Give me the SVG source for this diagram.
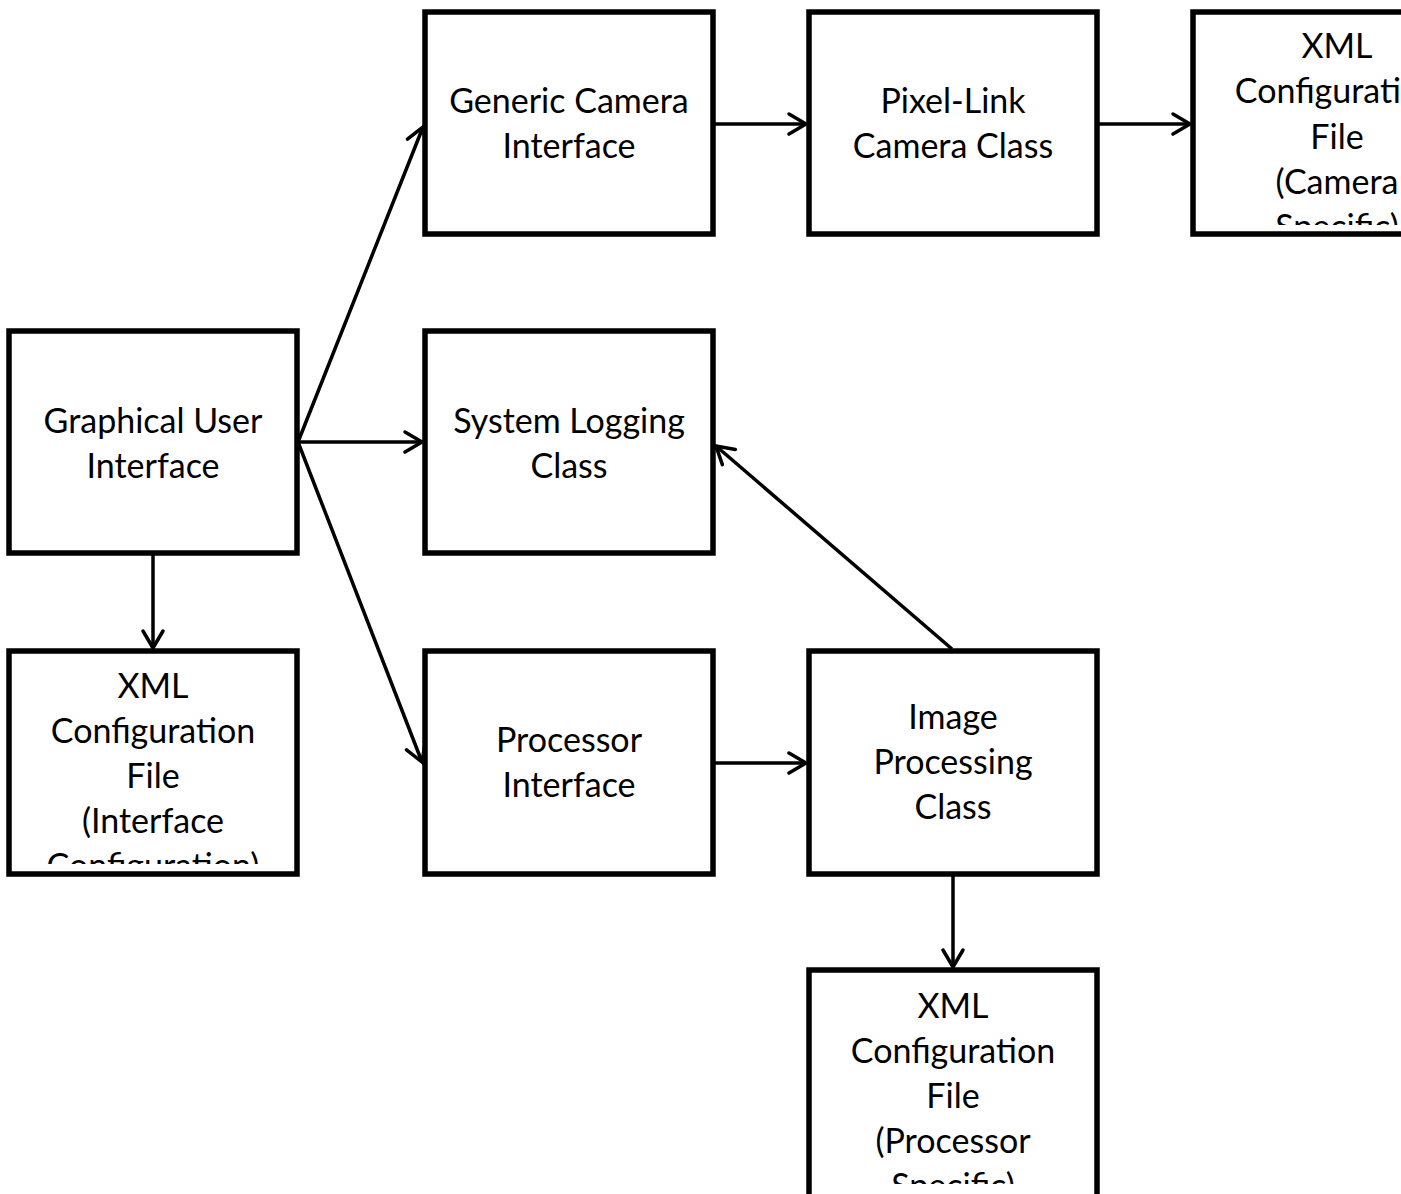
<svg xmlns="http://www.w3.org/2000/svg" width="1401" height="1194" viewBox="0 0 1401 1194">
<style>
.box{fill:#fff;stroke:#000;stroke-width:5.5}
.t{font-family:Lato,"Open Sans","Liberation Sans",sans-serif;font-size:34px;fill:#000;text-anchor:middle}
.c{fill:none;stroke:#000;stroke-width:3.5;marker-end:url(#arr)}
</style>
<defs>
<marker id="arr" viewBox="-22 -14 26 28" refX="0" refY="0" markerWidth="26" markerHeight="28" markerUnits="userSpaceOnUse" orient="auto">
<path d="M-17,-10 L0,0 L-17,10" fill="none" stroke="#000" stroke-width="3.5" stroke-linecap="round"/>
</marker>
<clipPath id="cpCam"><rect x="1196" y="15" width="300" height="210"/></clipPath>
<clipPath id="cpIf"><rect x="12" y="654" width="282" height="210"/></clipPath>
<clipPath id="cpProc"><rect x="812" y="973" width="282" height="211"/></clipPath>
</defs>
<g id="connectors">
<line class="c" x1="298" y1="442" x2="423" y2="127"/>
<line class="c" x1="298" y1="442" x2="422" y2="442"/>
<line class="c" x1="298" y1="442" x2="422" y2="762"/>
<line class="c" x1="713" y1="124" x2="806" y2="124"/>
<line class="c" x1="1097" y1="124" x2="1190" y2="124"/>
<line class="c" x1="153" y1="553" x2="153" y2="648"/>
<line class="c" x1="713" y1="763" x2="806" y2="763"/>
<line class="c" x1="952" y1="649" x2="716" y2="446"/>
<line class="c" x1="953" y1="875" x2="953" y2="967"/>
</g>
<g id="generic-camera">
<rect class="box" x="425" y="12" width="288" height="222"/>
<text class="t" x="569" y="113">Generic Camera</text>
<text class="t" x="569" y="158">Interface</text>
</g>
<g id="pixel-link">
<rect class="box" x="809" y="12" width="288" height="222"/>
<text class="t" x="953" y="113">Pixel-Link</text>
<text class="t" x="953" y="158">Camera Class</text>
</g>
<g id="xml-camera">
<rect class="box" x="1193" y="12" width="288" height="222"/>
<g clip-path="url(#cpCam)">
<text class="t" x="1337" y="58">XML</text>
<text class="t" x="1337" y="103">Configuration</text>
<text class="t" x="1337" y="149">File</text>
<text class="t" x="1337" y="194">(Camera</text>
<text class="t" x="1337" y="239">Specific)</text>
</g>
</g>
<g id="gui">
<rect class="box" x="9" y="331" width="288" height="222"/>
<text class="t" x="153" y="433">Graphical User</text>
<text class="t" x="153" y="478">Interface</text>
</g>
<g id="system-logging">
<rect class="box" x="425" y="331" width="288" height="222"/>
<text class="t" x="569" y="433">System Logging</text>
<text class="t" x="569" y="478">Class</text>
</g>
<g id="xml-interface">
<rect class="box" x="9" y="651" width="288" height="223"/>
<g clip-path="url(#cpIf)">
<text class="t" x="153" y="698">XML</text>
<text class="t" x="153" y="743">Configuration</text>
<text class="t" x="153" y="788">File</text>
<text class="t" x="153" y="833">(Interface</text>
<text class="t" x="153" y="878">Configuration)</text>
</g>
</g>
<g id="processor-interface">
<rect class="box" x="425" y="651" width="288" height="223"/>
<text class="t" x="569" y="752">Processor</text>
<text class="t" x="569" y="797">Interface</text>
</g>
<g id="image-processing">
<rect class="box" x="809" y="651" width="288" height="223"/>
<text class="t" x="953" y="729">Image</text>
<text class="t" x="953" y="774">Processing</text>
<text class="t" x="953" y="819">Class</text>
</g>
<g id="xml-processor">
<rect class="box" x="809" y="970" width="288" height="240"/>
<g clip-path="url(#cpProc)">
<text class="t" x="953" y="1018">XML</text>
<text class="t" x="953" y="1063">Configuration</text>
<text class="t" x="953" y="1108">File</text>
<text class="t" x="953" y="1153">(Processor</text>
<text class="t" x="953" y="1198">Specific)</text>
</g>
</g>
</svg>
